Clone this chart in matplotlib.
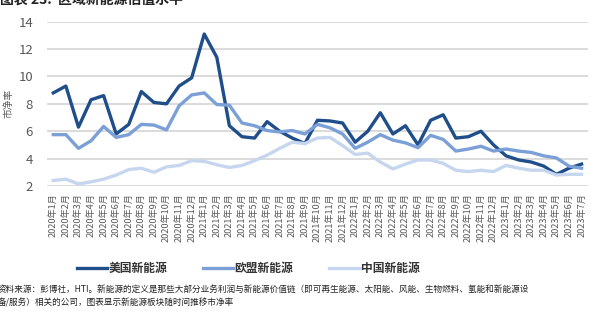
import matplotlib.pyplot as plt

plt.rcParams['font.family'] = ['Noto Sans CJK SC', 'DejaVu Sans']

months = [f"{y}年{m}月" for y in (2020, 2021, 2022) for m in range(1, 13)] + \
         [f"2023年{m}月" for m in range(1, 8)]

us = [8.8, 9.3, 6.3, 8.3, 8.6, 5.8, 6.5, 8.9, 8.1, 8.0, 9.3, 9.9,
      13.1, 11.4, 6.4, 5.6, 5.5, 6.7, 6.0, 5.5, 5.1, 6.8, 6.75, 6.6,
      5.2, 6.0, 7.35, 5.8, 6.4, 5.0, 6.8, 7.2, 5.5, 5.6, 6.0, 5.0,
      4.2, 3.9, 3.75, 3.45, 2.85, 3.3, 3.6]
eu = [5.75, 5.75, 4.75, 5.3, 6.35, 5.55, 5.75, 6.5, 6.45, 6.1, 7.85, 8.65,
      8.8, 7.95, 7.9, 6.6, 6.4, 6.05, 5.95, 6.05, 5.8, 6.5, 6.25, 5.8,
      4.75, 5.2, 5.75, 5.35, 5.15, 4.8, 5.7, 5.4, 4.55, 4.7, 4.9, 4.55,
      4.7, 4.55, 4.45, 4.2, 4.05, 3.45, 3.3]
cn = [2.4, 2.5, 2.15, 2.3, 2.5, 2.8, 3.2, 3.3, 3.0, 3.4, 3.5, 3.85,
      3.8, 3.55, 3.35, 3.5, 3.85, 4.25, 4.75, 5.2, 5.1, 5.5, 5.55, 4.95,
      4.3, 4.4, 3.75, 3.25, 3.6, 3.9, 3.9, 3.65, 3.15, 3.05, 3.15, 3.05,
      3.5, 3.3, 3.15, 3.15, 2.8, 2.85, 2.85]

series_names = ["美国新能源", "欧盟新能源", "中国新能源"]
colors = ["#1f4e8a", "#7b9fd7", "#c6d6ef"]

fig = plt.figure(figsize=(5.95, 3.22), dpi=100)
ax = fig.add_axes([0.079, 0.4224, 0.909, 0.5102])

x = range(len(months))
for vals, name, c in zip([us, eu, cn], series_names, colors):
    ax.plot(x, vals, color=c, lw=2.4, label=name, zorder=3)

ax.set_xlim(-0.5, len(months) - 0.5)
ax.set_ylim(2, 14)
ax.set_yticks(range(2, 15, 2))
ax.yaxis.grid(True, color="#d4d4d4", lw=1.2)
ax.set_axisbelow(True)
for s in ax.spines.values():
    s.set_visible(False)
ax.tick_params(axis='y', length=0, pad=10, labelsize=9.5, labelcolor="#595959")
ax.set_xticks(list(x))
ax.set_xticklabels(months, rotation=90, fontsize=6.6, color="#595959")
ax.tick_params(axis='x', length=0, pad=5)
ax.set_ylabel("市净率", fontsize=7, color="#595959")
ax.yaxis.set_label_coords(-0.062, 0.5)

fig.text(0.0, 1.0, "图表 23:  区域新能源估值水平", fontsize=10, fontweight='bold',
         color="#222222", va='center', ha='left')

fig.legend(loc='center', bbox_to_anchor=(0.417, 0.167), ncol=3, frameon=False,
           prop={'size': 8.5, 'weight': 'bold'}, handlelength=2.6,
           handletextpad=0.1, columnspacing=3.0, labelcolor="#333333")

fig.text(-0.004, 0.103,
         "资料来源：彭博社，HTI。新能源的定义是那些大部分业务利润与新能源价值链（即可再生能源、太阳能、风能、生物燃料、氢能和新能源设",
         fontsize=6.2, color="#222222", va='center', ha='left')
fig.text(-0.004, 0.058, "备/服务）相关的公司，图表显示新能源板块随时间推移市净率",
         fontsize=6.2, color="#222222", va='center', ha='left')

fig.savefig("out.png", dpi=100)
